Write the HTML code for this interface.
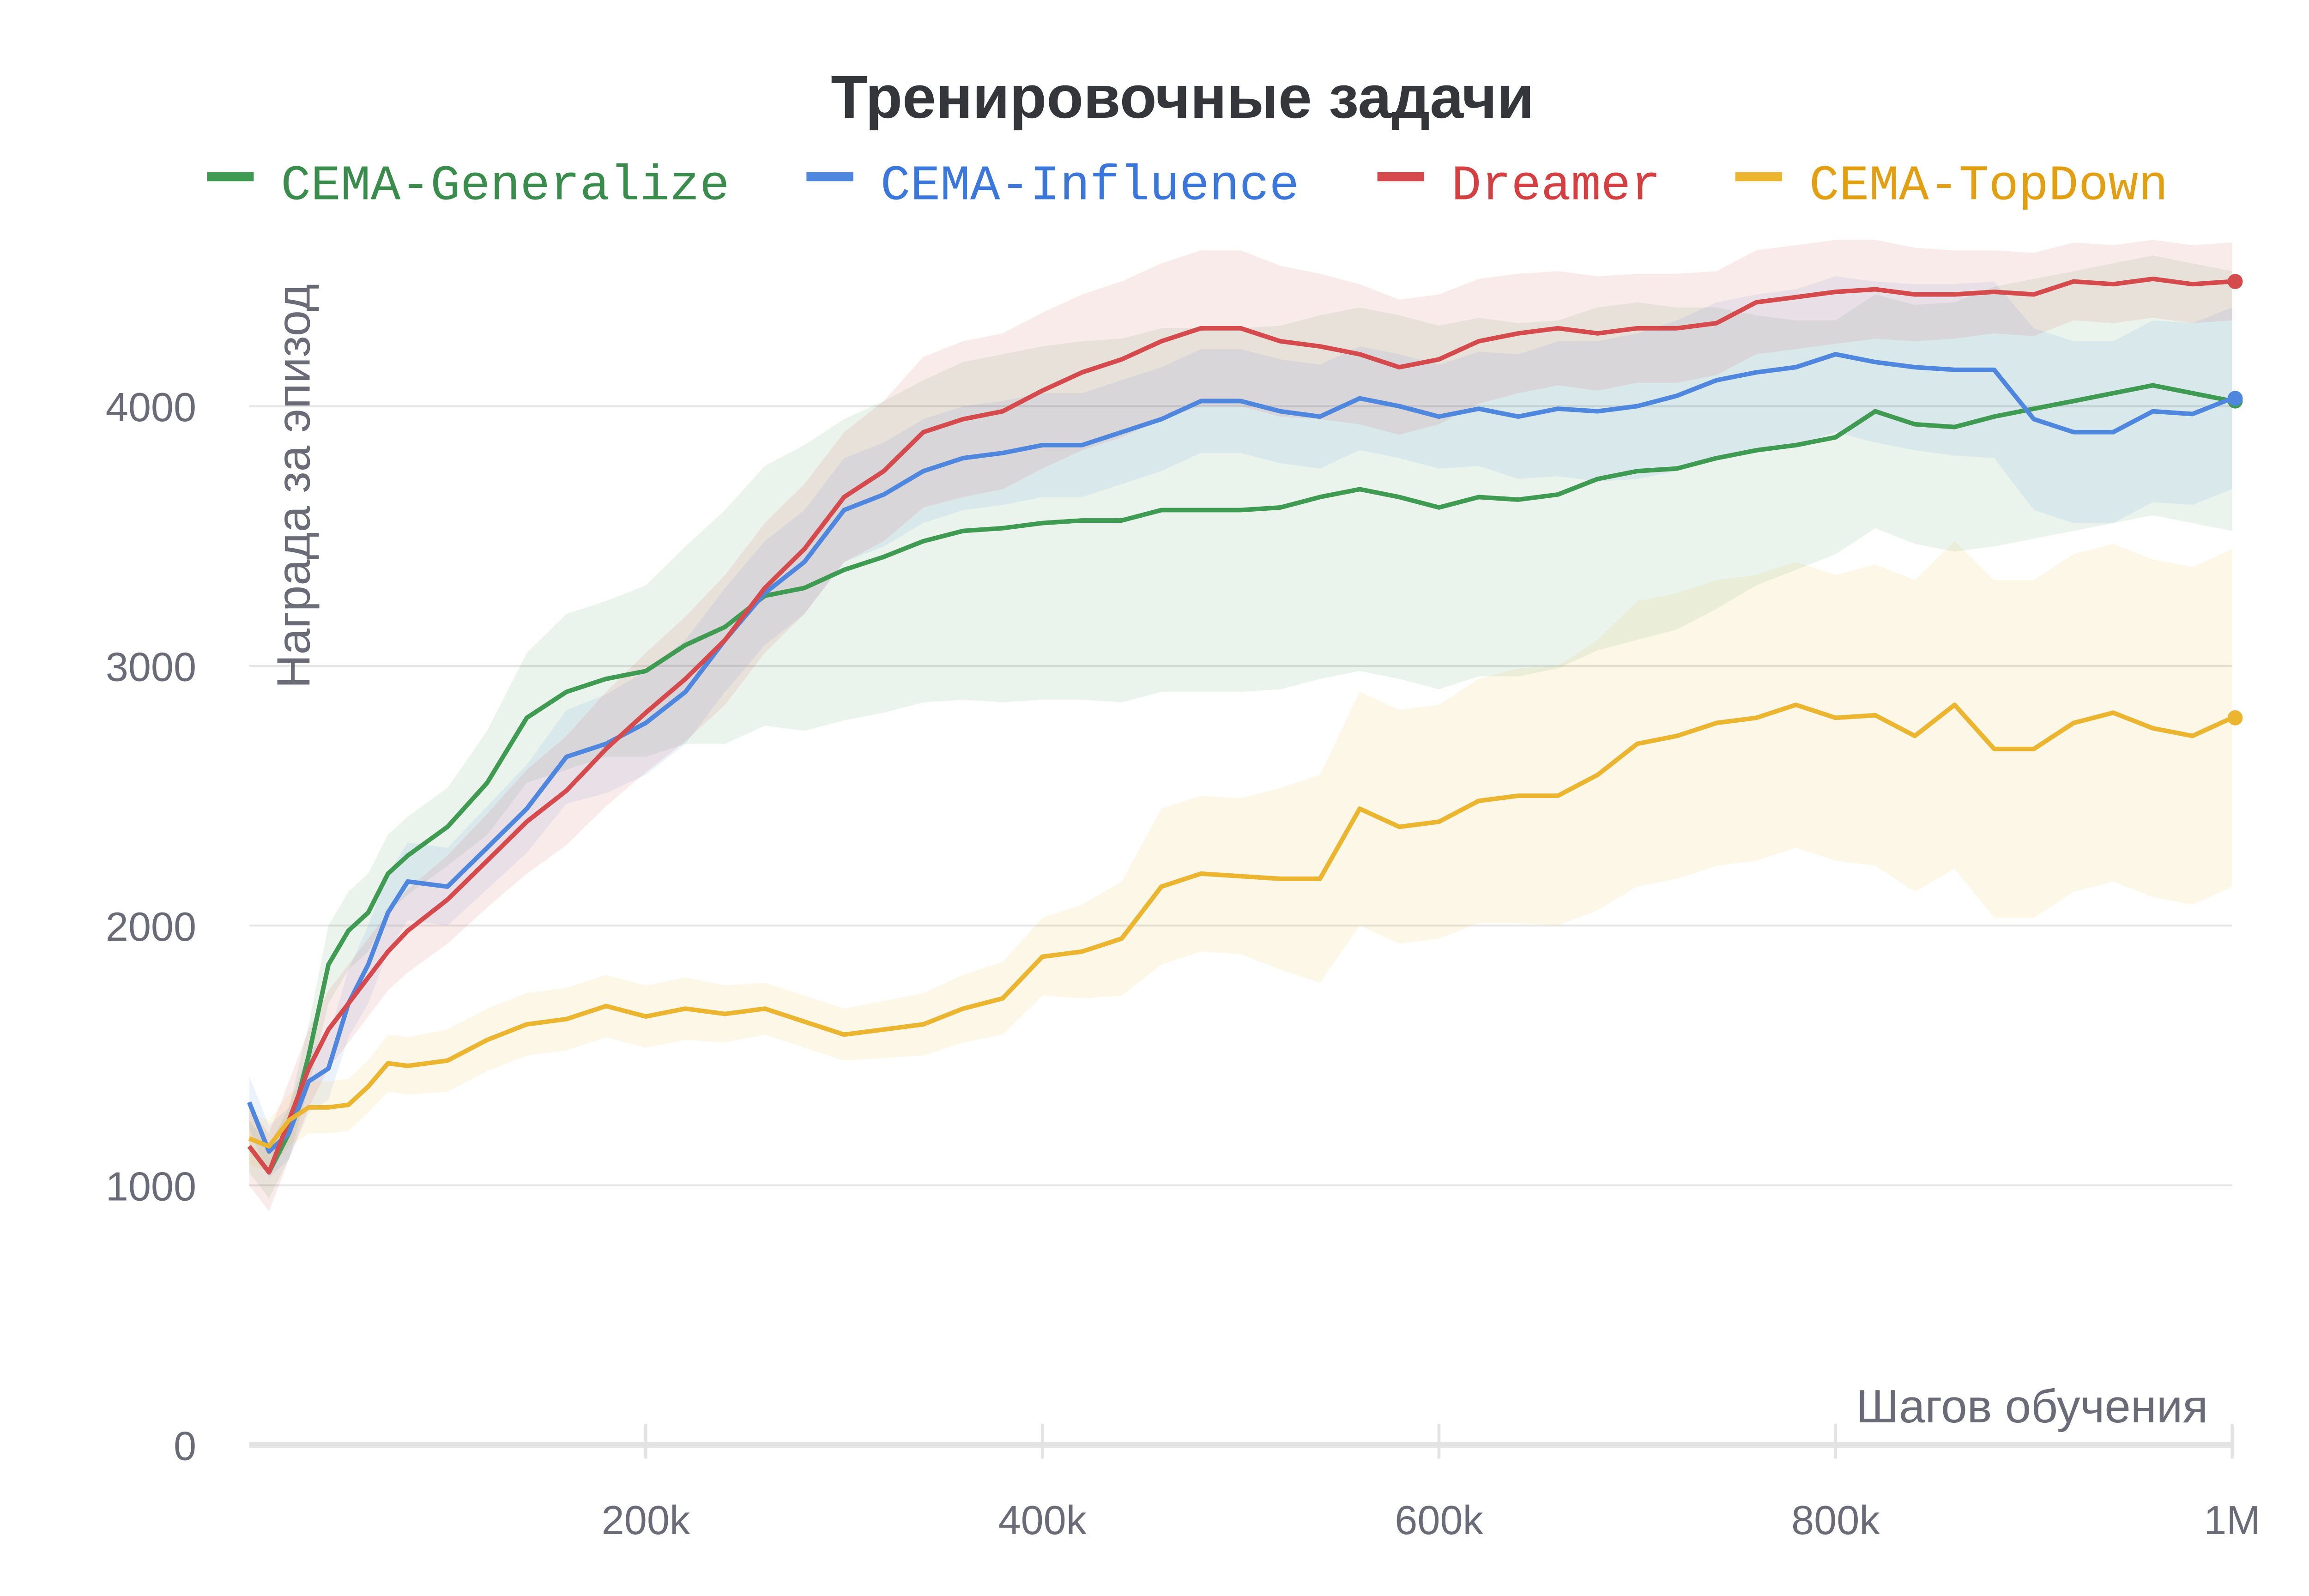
<!DOCTYPE html>
<html><head><meta charset="utf-8"><style>
html,body{margin:0;padding:0;background:#fff}
svg{display:block}
</style></head><body>
<svg id="chart" width="5056" height="3456" viewBox="0 0 1546 1057" preserveAspectRatio="none" xmlns="http://www.w3.org/2000/svg">
<text x="783" y="78" text-anchor="middle" font-family="Liberation Sans, sans-serif" font-weight="bold" font-size="40" fill="#34363b">Тренировочные задачи</text>
<g id="legend" font-family="Liberation Mono, monospace" font-size="33"></g>
<g id="grid"></g>
<g id="bands"></g>
<g id="lines"></g>
<g id="axes" font-family="Liberation Sans, sans-serif" font-size="27" fill="#6b6b78"></g>
<text transform="translate(205,322) rotate(-90)" text-anchor="middle" font-family="Liberation Sans, sans-serif" font-size="31" fill="#6b6b78">Награда за эпизод</text>
<text x="1462" y="942" text-anchor="end" font-family="Liberation Sans, sans-serif" font-size="31" fill="#6b6b78">Шагов обучения</text>
</svg>
<script>
const steps = [0,10,20,30,40,50,60,70,80,100,120,140,160,180,200,220,240,260,280,300,320,340,360,380,400,420,440,460,480,500,520,540,560,580,600,620,640,660,680,700,720,740,760,780,800,820,840,860,880,900,920,940,960,980,1000];
const generalize = [1150,1050,1200,1500,1850,1980,2050,2200,2270,2380,2550,2800,2900,2950,2980,3080,3150,3270,3300,3370,3420,3480,3520,3530,3550,3560,3560,3600,3600,3600,3610,3650,3680,3650,3610,3650,3640,3660,3720,3750,3760,3800,3830,3850,3880,3980,3930,3920,3960,3990,4020,4050,4080,4050,4020];
const generalizeSpread = [100,100,100,120,150,150,150,150,150,150,200,250,300,300,330,380,450,500,550,580,600,620,650,670,680,690,700,700,700,700,700,700,700,700,700,690,680,670,660,650,620,580,520,480,450,450,460,480,500,500,500,500,500,500,500];
const influence = [1320,1130,1200,1400,1450,1700,1850,2050,2170,2150,2300,2450,2650,2700,2780,2900,3100,3280,3400,3600,3660,3750,3800,3820,3850,3850,3900,3950,4020,4020,3980,3960,4030,4000,3960,3990,3960,3990,3980,4000,4040,4100,4130,4150,4200,4170,4150,4140,4140,3950,3900,3900,3980,3970,4030];
const influenceSpread = [100,100,100,120,120,130,150,150,150,150,160,170,180,190,200,200,200,200,200,200,200,200,200,200,200,200,200,200,200,200,200,200,200,200,200,220,240,260,270,280,290,300,300,300,300,310,320,330,340,350,350,350,350,350,350];
const dreamer = [1150,1050,1250,1450,1600,1700,1800,1900,1980,2100,2250,2400,2520,2680,2820,2950,3100,3300,3450,3650,3750,3900,3950,3980,4060,4130,4180,4250,4300,4300,4250,4230,4200,4150,4180,4250,4280,4300,4280,4300,4300,4320,4400,4420,4440,4450,4430,4430,4440,4430,4480,4470,4490,4470,4480];
const dreamerSpread = [150,150,150,150,150,150,150,150,160,170,180,200,210,220,230,240,250,250,250,250,270,290,300,300,300,300,300,300,300,300,290,280,270,260,250,240,230,220,220,210,210,200,200,200,200,190,180,170,160,160,150,150,150,150,150];
const topdown = [1180,1150,1250,1300,1300,1310,1380,1470,1460,1480,1560,1620,1640,1690,1650,1680,1660,1680,1630,1580,1600,1620,1680,1720,1880,1900,1950,2150,2200,2190,2180,2180,2450,2380,2400,2480,2500,2500,2580,2700,2730,2780,2800,2850,2800,2810,2730,2850,2680,2680,2780,2820,2760,2730,2800];
const topdownSpread = [100,100,100,100,100,100,100,110,110,120,120,120,120,120,120,120,110,100,100,100,110,120,130,140,150,180,220,300,300,300,350,400,450,450,450,470,490,500,520,550,550,550,550,550,550,580,600,630,650,650,650,650,650,650,650];
const yTicks = [0,1000,2000,3000,4000];
const xTicks = [200,400,600,800,1000];
const xTickLabels = ["200k","400k","600k","800k","1M"];
const seriesNames = ["CEMA-Generalize","CEMA-Influence","Dreamer","CEMA-TopDown"];

const NS="http://www.w3.org/2000/svg";
const X0=165,X1=1478,Y0=957,Y1=269;
const xs=v=>X0+(X1-X0)*v/1000;
const ys=v=>Y0+(Y1-Y0)*v/4000;
function mk(tag,attrs,parent){const e=document.createElementNS(NS,tag);for(const k in attrs)e.setAttribute(k,attrs[k]);parent.appendChild(e);return e;}

const grid=document.getElementById('grid');
yTicks.forEach(t=>{if(t===0)return;
  const l=mk('line',{x1:X0,x2:X1,y1:ys(t),y2:ys(t),stroke:'#e6e6e6','stroke-width':1.3},grid);
  
  
});
const axes=document.getElementById('axes');
const base=mk('line',{x1:X0,x2:X1,y1:Y0,y2:Y0,stroke:'#e3e3e3','stroke-width':4},axes);


xTicks.forEach((t,i)=>{
  const tk=mk('line',{x1:xs(t),x2:xs(t),y1:943,y2:966,stroke:'#e3e3e3','stroke-width':2},axes);
  
  
  const tx=mk('text',{x:xs(t),y:1016,'text-anchor':'middle'},axes);tx.textContent=xTickLabels[i];
  
  
});
yTicks.forEach(t=>{
  const tx=mk('text',{x:130,y:ys(t)+10,'text-anchor':'end'},axes);tx.textContent=String(t);
  
  
});

const series=[
 {vals:generalize,sp:generalizeSpread,c:'#3f9a52',tc:'#3a8c4c',lx:137,tx:186},
 {vals:influence,sp:influenceSpread,c:'#4f87df',tc:'#3b76da',lx:534,tx:583},
 {vals:dreamer,sp:dreamerSpread,c:'#d54a4c',tc:'#d43f41',lx:912,tx:961},
 {vals:topdown,sp:topdownSpread,c:'#ecb530',tc:'#e29f12',lx:1149,tx:1198}
];
const bands=document.getElementById('bands'),lines=document.getElementById('lines'),legend=document.getElementById('legend');
series.forEach((s,i)=>{
  let up='',lo='';
  steps.forEach((x,j)=>{up+=(j?'L':'M')+xs(x).toFixed(1)+','+ys(s.vals[j]+s.sp[j]).toFixed(1);});
  for(let j=steps.length-1;j>=0;j--)lo+='L'+xs(steps[j]).toFixed(1)+','+ys(s.vals[j]-s.sp[j]).toFixed(1);
  const b=mk('path',{d:up+lo+'Z',fill:s.c,'fill-opacity':0.11},bands);
  
  
  let d='';steps.forEach((x,j)=>{d+=(j?'L':'M')+xs(x).toFixed(1)+','+ys(s.vals[j]).toFixed(1);});
  const p=mk('path',{d:d,fill:'none',stroke:s.c,'stroke-width':3,'stroke-linejoin':'round'},lines);
  
  
  const dot=mk('circle',{cx:xs(1000)+2,cy:ys(s.vals[s.vals.length-1]),r:5,fill:s.c},lines);
  
  
  const ll=mk('line',{x1:s.lx,x2:s.lx+31,y1:117,y2:117,stroke:s.c,'stroke-width':6},legend);
  
  
  const lt=mk('text',{x:s.tx,y:132,fill:s.tc},legend);lt.textContent=seriesNames[i];
  
  
});
</script>
</body></html>
